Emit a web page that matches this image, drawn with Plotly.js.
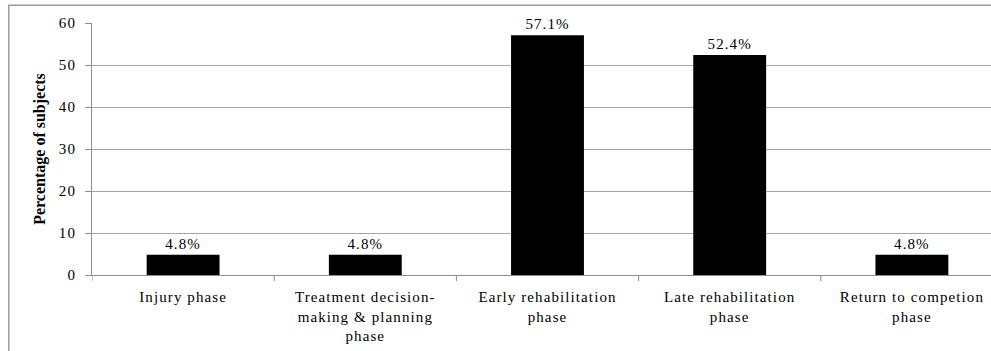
<!DOCTYPE html>
<html>
<head>
<meta charset="utf-8">
<script src="https://cdn.plot.ly/plotly-3.0.1.min.js"></script>
<style>
html,body{margin:0;padding:0;background:#fff;}
#chart{width:991px;height:351px;}
#chart .xtick text, #chart .ytick text, #chart text.bartext {letter-spacing:1.1px;}
</style>
</head>
<body>
<div id="chart"></div>
<script>
const categories = [
  "Injury phase",
  "Treatment decision-<br>making & planning<br>phase",
  "Early rehabilitation<br>phase",
  "Late rehabilitation<br>phase",
  "Return to competion<br>phase"
];
const values = [4.8, 4.8, 57.1, 52.4, 4.8];
const valueLabels = ["4.8%", "4.8%", "57.1%", "52.4%", "4.8%"];
const yTicks = [0, 10, 20, 30, 40, 50, 60];

const serif = "'Liberation Serif', 'Times New Roman', serif";
const xIdx = categories.map((c, i) => i);

const trace = {
  type: "bar",
  x: xIdx,
  y: values,
  width: 0.4,
  marker: {color: "#000000"},
  text: valueLabels,
  textposition: "outside",
  textfont: {family: serif, size: 15, color: "#000"},
  cliponaxis: false,
  hoverinfo: "none"
};

const L = 91.7, T = 23.3, B = 75.7, W = 991, H = 351;
const pw = W - L, ph = H - T - B;

const layout = {
  width: W, height: H,
  margin: {l: L, r: 0, t: T, b: B, pad: 0},
  paper_bgcolor: "#fff",
  plot_bgcolor: "#fff",
  showlegend: false,
  font: {family: serif, size: 15, color: "#000"},
  xaxis: {
    range: [-0.5, 4.5 - 12 / 182.3],
    tickmode: "array",
    tickvals: xIdx,
    ticktext: categories,
    ticks: "",
    ticklabelstandoff: 8,
    showgrid: false,
    showline: true,
    linecolor: "#8c8c8c",
    linewidth: 1,
    zeroline: false,
    tickfont: {family: serif, size: 15, color: "#000"},
    fixedrange: true
  },
  yaxis: {
    range: [0, 60],
    tickmode: "array",
    tickvals: yTicks,
    ticks: "outside",
    ticklen: 6,
    ticklabelstandoff: 6,
    tickcolor: "#8c8c8c",
    showgrid: true,
    gridcolor: "#a6a6a6",
    gridwidth: 1,
    showline: true,
    linecolor: "#8c8c8c",
    zeroline: false,
    tickfont: {family: serif, size: 15, color: "#000"},
    title: {text: "<b>Percentage of subjects</b>", font: {family: serif, size: 16, color: "#000"}, standoff: 11},
    fixedrange: true
  },
  shapes: [
    ...[-0.5, 0.5, 1.5, 2.5, 3.5].map(v => ({
      type: "line", xref: "x", yref: "paper",
      x0: v, x1: v, y0: 0, y1: -6 / ph,
      line: {color: "#8c8c8c", width: 1}
    })),
    {
      type: "rect", xref: "paper", yref: "paper",
      x0: (8.5 - L) / pw, x1: 1.05,
      y0: -0.6, y1: (H - B - 5.5) / ph,
      line: {color: "#9a9a9a", width: 1.5},
      fillcolor: "rgba(0,0,0,0)",
      layer: "below"
    }
  ]
};

Plotly.newPlot("chart", [trace], layout, {displayModeBar: false, staticPlot: true});
</script>
</body>
</html>
